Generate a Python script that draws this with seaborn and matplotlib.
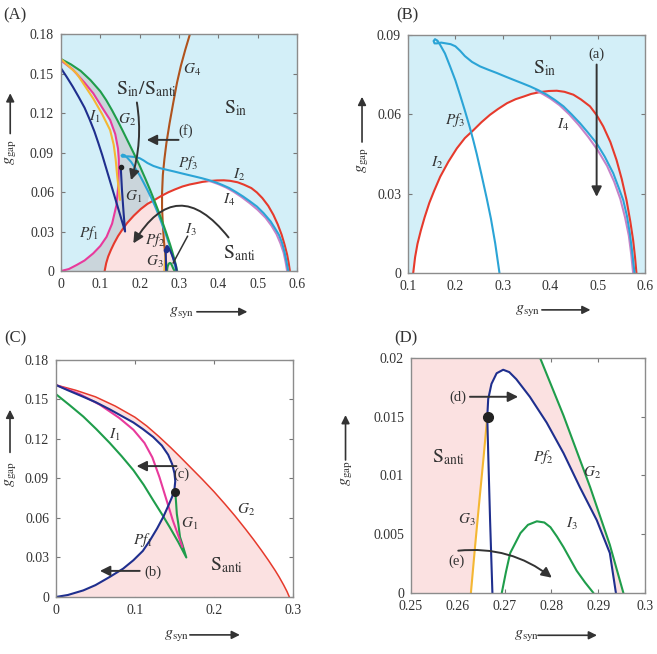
import numpy as np
import matplotlib
matplotlib.use("Agg")
import matplotlib.pyplot as plt
import seaborn as sns

# ---------------- data ----------------
# shared curves of panels A / B
I2_x = [0.111, 0.115, 0.12, 0.127, 0.135, 0.145, 0.155, 0.168, 0.185, 0.203, 0.22, 0.238, 0.255, 0.273,
        0.29, 0.309, 0.327, 0.344, 0.36, 0.379, 0.397, 0.414, 0.43, 0.449, 0.465, 0.484, 0.498, 0.512,
        0.527, 0.540, 0.551, 0.561, 0.569, 0.575, 0.579, 0.582]
I2_y = [0.0, 0.006, 0.011, 0.016, 0.021, 0.0265, 0.031, 0.0364, 0.042, 0.0471, 0.051, 0.054, 0.057, 0.0598,
        0.062, 0.0642, 0.0657, 0.0667, 0.0677, 0.0684, 0.0688, 0.0689, 0.0685, 0.0674, 0.0656, 0.063, 0.0597,
        0.0554, 0.0495, 0.0427, 0.0355, 0.0276, 0.0195, 0.0124, 0.006, 0.0]

Pf3_down_x = [0.162, 0.168, 0.178, 0.189, 0.2, 0.21, 0.22, 0.230, 0.238, 0.245, 0.255, 0.266, 0.275, 0.284, 0.293]
Pf3_down_y = [0.0878, 0.0862, 0.083, 0.078, 0.0728, 0.0672, 0.0614, 0.0553, 0.050, 0.045, 0.0372, 0.0283,
              0.0205, 0.0112, 0.0]
Pf3_top_x = [0.162, 0.157, 0.154, 0.156, 0.161, 0.17, 0.18, 0.19, 0.2, 0.21, 0.22, 0.235, 0.252, 0.27, 0.2875,
             0.305, 0.323, 0.34, 0.358, 0.375, 0.393, 0.41, 0.428, 0.445, 0.463, 0.48, 0.498, 0.515, 0.533,
             0.545, 0.554, 0.562, 0.568, 0.573, 0.576, 0.578]
Pf3_top_y = [0.0878, 0.0884, 0.0877, 0.0868, 0.0868, 0.0871, 0.0868, 0.0865, 0.0857, 0.084, 0.082, 0.0798,
             0.0781, 0.0768, 0.0756, 0.0743, 0.073, 0.0718, 0.0705, 0.0691, 0.0674, 0.0654, 0.063, 0.060,
             0.0566, 0.053, 0.049, 0.044, 0.0377, 0.032, 0.0276, 0.0215, 0.015, 0.008, 0.003, 0.0]

I4_x = [0.37, 0.385, 0.40, 0.42, 0.44, 0.46, 0.48, 0.50, 0.52, 0.535, 0.548, 0.558, 0.566, 0.571, 0.575]
I4_y = [0.069, 0.0676, 0.066, 0.0634, 0.060, 0.056, 0.0515, 0.0465, 0.0405, 0.0345, 0.028, 0.021, 0.014, 0.007, 0.0]

G4_x = [0.270, 0.266, 0.262, 0.259, 0.257, 0.257, 0.259, 0.263, 0.268, 0.276, 0.285, 0.295, 0.305, 0.316, 0.328]
G4_y = [0.0, 0.010, 0.022, 0.035, 0.048, 0.059, 0.073, 0.085, 0.097, 0.112, 0.127, 0.143, 0.156, 0.168, 0.18]

# G2 (shared by A, C, D)
G2_x = [0.0, 0.025, 0.05, 0.075, 0.1, 0.115, 0.13, 0.145, 0.157, 0.171, 0.185, 0.2, 0.214, 0.227, 0.24,
        0.25, 0.26, 0.269, 0.2776, 0.2826, 0.2883, 0.2925, 0.2954]
G2_y = [0.161, 0.157, 0.152, 0.145, 0.1365, 0.1298, 0.122, 0.1136, 0.1065, 0.098, 0.0895, 0.080, 0.0705,
        0.0613, 0.0515, 0.0437, 0.0355, 0.0278, 0.020, 0.0151, 0.009, 0.0041, 0.0]

# panel A left cluster
A_navy_x = [0.0, 0.015, 0.03, 0.045, 0.06, 0.0725, 0.085, 0.095, 0.105, 0.115, 0.125, 0.135, 0.145, 0.154,
            0.163, 0.159, 0.155, 0.152]
A_navy_y = [0.154, 0.1472, 0.140, 0.1322, 0.124, 0.1154, 0.106, 0.0972, 0.088, 0.078, 0.068, 0.058, 0.048,
            0.039, 0.030, 0.045, 0.062, 0.079]
A_Pf1_x = [0.0, 0.02, 0.04, 0.06, 0.082, 0.1, 0.116, 0.13, 0.141, 0.146, 0.147, 0.147, 0.145, 0.138, 0.125,
           0.105, 0.082, 0.06, 0.03, 0.0]
A_Pf1_y = [0.0, 0.0015, 0.0046, 0.008, 0.0134, 0.019, 0.026, 0.036, 0.05, 0.066, 0.079, 0.085, 0.093, 0.104,
           0.1147, 0.124, 0.135, 0.143, 0.153, 0.160]
A_yel_x = [0.0, 0.04, 0.082, 0.105, 0.125, 0.134, 0.139, 0.143, 0.147, 0.150]
A_yel_y = [0.161, 0.150, 0.131, 0.119, 0.107, 0.096, 0.085, 0.072, 0.062, 0.054]

# panel C
C_Pf1_x = [0.0, 0.015, 0.0346, 0.05, 0.068, 0.085, 0.098, 0.11, 0.119, 0.128, 0.136, 0.142, 0.147, 0.150,
           0.151, 0.150, 0.147, 0.142, 0.134, 0.123, 0.11, 0.098, 0.08, 0.068, 0.05, 0.0346, 0.015, 0.0]
C_Pf1_y = [0.0, 0.0015, 0.005, 0.009, 0.0152, 0.0215, 0.0279, 0.035, 0.043, 0.052, 0.061, 0.069, 0.076,
           0.082, 0.088, 0.094, 0.101, 0.108, 0.115, 0.1215, 0.1275, 0.1325, 0.1385, 0.1425, 0.148, 0.152,
           0.157, 0.161]
C_G1_x = [0.0, 0.017, 0.0346, 0.051, 0.068, 0.083, 0.098, 0.111, 0.123, 0.134, 0.144, 0.155, 0.165, 0.160,
          0.157, 0.155, 0.153, 0.152, 0.151]
C_G1_y = [0.154, 0.1458, 0.137, 0.1275, 0.117, 0.107, 0.0963, 0.0852, 0.0735, 0.063, 0.053, 0.0415, 0.030,
          0.040, 0.0456, 0.055, 0.063, 0.072, 0.080]
C_I1_x = [0.0, 0.03, 0.0556, 0.08, 0.098, 0.112, 0.122, 0.131, 0.14, 0.148, 0.157, 0.16]
C_I1_y = [0.161, 0.154, 0.146, 0.136, 0.127, 0.117, 0.106, 0.091, 0.0735, 0.058, 0.043, 0.038]

# panel D
D_Pf2_x = [0.2674, 0.2669, 0.2665, 0.2663, 0.2665, 0.2672, 0.2683, 0.2697, 0.2710, 0.2725, 0.2754, 0.279,
           0.2826, 0.2861, 0.2897, 0.2925, 0.2938]
D_Pf2_y = [0.0, 0.0062, 0.0119, 0.015, 0.0165, 0.0178, 0.0187, 0.0190, 0.0188, 0.0182, 0.0167, 0.0145,
           0.0119, 0.009, 0.0062, 0.0034, 0.0]
D_G3_x = [0.2628, 0.2637, 0.2646, 0.2655, 0.2663]
D_G3_y = [0.0, 0.004, 0.0078, 0.0115, 0.015]
D_I3_x = [0.2694, 0.2703, 0.2712, 0.2734, 0.2750, 0.2769, 0.2785, 0.2798, 0.2812, 0.2826, 0.2840, 0.2854,
          0.2872, 0.289]
D_I3_y = [0.0, 0.0018, 0.0034, 0.0051, 0.0058, 0.0061, 0.0060, 0.0056, 0.0048, 0.0039, 0.0029, 0.0019,
          0.0009, 0.0]

# ticks
A_xt = [0, 0.1, 0.2, 0.3, 0.4, 0.5, 0.6]; A_xtl = ["0", "0.1", "0.2", "0.3", "0.4", "0.5", "0.6"]
A_yt = [0, 0.03, 0.06, 0.09, 0.12, 0.15, 0.18]; A_ytl = ["0", "0.03", "0.06", "0.09", "0.12", "0.15", "0.18"]
B_xt = [0.1, 0.2, 0.3, 0.4, 0.5, 0.6]; B_xtl = ["0.1", "0.2", "0.3", "0.4", "0.5", "0.6"]
B_yt = [0, 0.03, 0.06, 0.09]; B_ytl = ["0", "0.03", "0.06", "0.09"]
C_xt = [0, 0.1, 0.2, 0.3]; C_xtl = ["0", "0.1", "0.2", "0.3"]
D_xt = [0.25, 0.26, 0.27, 0.28, 0.29, 0.3]; D_xtl = ["0.25", "0.26", "0.27", "0.28", "0.29", "0.3"]
D_yt = [0, 0.005, 0.01, 0.015, 0.02]; D_ytl = ["0", "0.005", "0.01", "0.015", "0.02"]

# ---------------- style ----------------
sns.set_theme(style="ticks")
plt.rcParams['font.family'] = ['Liberation Serif', 'DejaVu Serif']
plt.rcParams['mathtext.fontset'] = 'stix'

NAVY = '#1f2f8e'; MAG = '#e83a9c'; YEL = '#f4b733'; GRN = '#1f9d4b'; CYAN = '#2ba4d6'
RED = '#e63a2c'; BROWN = '#b0531d'; LAV = '#c683c8'
BLUE_BG = '#d3eff8'; PINK = '#fbe1e1'; GREY = '#cad5db'; ARROW = '#333333'

fig = plt.figure(figsize=(6.57, 6.54), dpi=100)
axA = fig.add_axes([0.0928, 0.5856, 0.3592, 0.3624])
axB = fig.add_axes([0.621, 0.5826, 0.3607, 0.364])
axC = fig.add_axes([0.0852, 0.0872, 0.3607, 0.3624])
axD = fig.add_axes([0.6256, 0.0933, 0.356, 0.3593])


def line(ax, x, y, color, lw=1.5, z=3):
    sns.lineplot(x=x, y=y, sort=False, estimator=None, color=color, linewidth=lw, ax=ax,
                 legend=False, zorder=z)


def style(ax, xlim, ylim, xt, xtl, yt, ytl, bg):
    ax.set_xlim(xlim); ax.set_ylim(ylim)
    ax.set_facecolor(bg)
    ax.set_xticks(xt); ax.set_xticklabels(xtl)
    ax.set_yticks(yt); ax.set_yticklabels(ytl)
    ax.set_xlabel(''); ax.set_ylabel('')
    ax.tick_params(direction='in', top=True, right=True, length=3, width=0.8, color='#777777',
                   labelsize=10, labelcolor='#333333', pad=5)
    for s in ax.spines.values():
        s.set_visible(True); s.set_color('#8c8c8c'); s.set_linewidth(1.0)
        s.set_zorder(10)


def axlabels(ax, xl, xa, yl, ya):
    ax.text(xl[0], xl[1], r'$g_{\rm syn}$', transform=ax.transAxes, ha='center', va='center',
            fontsize=11.5, color='#333333')
    ax.annotate('', xy=(xa[1], xl[1]), xytext=(xa[0], xl[1]), xycoords='axes fraction',
                arrowprops=dict(arrowstyle='-|>', color=ARROW, lw=1.2, mutation_scale=12,
                                shrinkA=0, shrinkB=0), annotation_clip=False)
    ax.text(yl[0], yl[1], r'$g_{\rm gap}$', transform=ax.transAxes, ha='center', va='center',
            fontsize=11.5, color='#333333', rotation=90)
    ax.annotate('', xy=(yl[0], ya[1]), xytext=(yl[0], ya[0]), xycoords='axes fraction',
                arrowprops=dict(arrowstyle='-|>', color=ARROW, lw=1.2, mutation_scale=12,
                                shrinkA=0, shrinkB=0), annotation_clip=False)


def lab(ax, x, y, s, size=11):
    ax.text(x, y, s, ha='center', va='center', fontsize=size, color='#333333', zorder=6)


def arrow(ax, start, end, rad=0.0, lw=1.4):
    ax.annotate('', xy=end, xytext=start,
                arrowprops=dict(arrowstyle='-|>', color=ARROW, lw=lw, mutation_scale=15,
                                shrinkA=0, shrinkB=0, connectionstyle=f'arc3,rad={rad}'), zorder=7)


def sel(xs, ys, cond):
    return [(x, y) for x, y in zip(xs, ys) if cond(x)]


# ---------------- panel A ----------------
ax = axA
XI = 0.237  # approximate crossing of G2 and I2
grey_poly = sel(G2_x, G2_y, lambda x: x <= XI) + sel(I2_x, I2_y, lambda x: x <= XI)[::-1] + \
    list(zip(A_Pf1_x, A_Pf1_y))
ax.fill(*zip(*grey_poly), color=GREY, lw=0, zorder=1)
pink_poly = sel(I2_x, I2_y, lambda x: x <= XI) + sel(G2_x, G2_y, lambda x: x > XI)
ax.fill(*zip(*pink_poly), color=PINK, lw=0, zorder=1)
white_poly = sel(I2_x, I2_y, lambda x: XI < x <= 0.38) + sel(Pf3_top_x, Pf3_top_y, lambda x: x > 0.38) + \
    sel(G2_x, G2_y, lambda x: x > XI)[::-1]
ax.fill(*zip(*white_poly), color='white', lw=0, zorder=1)

line(ax, G4_x, G4_y, BROWN)
line(ax, I2_x, I2_y, RED)
line(ax, I4_x, I4_y, LAV)
line(ax, Pf3_top_x, Pf3_top_y, CYAN)
line(ax, Pf3_down_x, Pf3_down_y, CYAN)
line(ax, G2_x, G2_y, GRN)
line(ax, A_Pf1_x, A_Pf1_y, MAG)
line(ax, A_yel_x, A_yel_y, YEL)
line(ax, A_navy_x, A_navy_y, NAVY)
line(ax, D_G3_x, D_G3_y, YEL)
line(ax, D_I3_x, D_I3_y, GRN)
line(ax, D_Pf2_x, D_Pf2_y, NAVY)
ax.plot([0.152], [0.079], 'o', color='#222222', ms=3, zorder=8)
ax.plot([0.2663], [0.016], 'o', color=NAVY, ms=3, zorder=8)
style(ax, (0, 0.6), (0, 0.18), A_xt, A_xtl, A_yt, A_ytl, BLUE_BG)

lab(ax, 0.218, 0.138, r'$\mathrm{S}_{\mathrm{in}}/\mathrm{S}_{\mathrm{anti}}$', 14)
lab(ax, 0.445, 0.124, r'$\mathrm{S}_{\mathrm{in}}$', 14)
lab(ax, 0.455, 0.0135, r'$\mathrm{S}_{\mathrm{anti}}$', 14)
lab(ax, 0.333, 0.153, r'$G_4$')
lab(ax, 0.087, 0.117, r'$I_1$')
lab(ax, 0.167, 0.115, r'$G_2$')
lab(ax, 0.316, 0.106, '(f)', 10.5)
lab(ax, 0.322, 0.082, r'$Pf_3$')
lab(ax, 0.453, 0.073, r'$I_2$')
lab(ax, 0.185, 0.0565, r'$G_1$')
lab(ax, 0.427, 0.054, r'$I_4$')
lab(ax, 0.33, 0.0315, r'$I_3$')
lab(ax, 0.07, 0.029, r'$Pf_1$')
lab(ax, 0.239, 0.0236, r'$Pf_2$')
lab(ax, 0.239, 0.0071, r'$G_3$')
arrow(ax, (0.193, 0.128), (0.178, 0.069), rad=-0.12)
arrow(ax, (0.299, 0.0996), (0.218, 0.0996))
arrow(ax, (0.426, 0.0255), (0.184, 0.021), rad=0.72)
ax.annotate('', xy=(0.285, 0.006), xytext=(0.322, 0.0265),
            arrowprops=dict(arrowstyle='-', color=ARROW, lw=1.1, shrinkA=0, shrinkB=0), zorder=7)
axlabels(ax, (0.51, -0.172), (0.576, 0.79), (-0.215, 0.50), (0.58, 0.75))

# ---------------- panel B ----------------
ax = axB
white_B = sel(I2_x, I2_y, lambda x: x <= 0.38) + sel(Pf3_top_x, Pf3_top_y, lambda x: x > 0.38)
ax.fill(*zip(*white_B), color='white', lw=0, zorder=1)
line(ax, I2_x, I2_y, RED)
line(ax, I4_x, I4_y, LAV)
line(ax, Pf3_top_x, Pf3_top_y, CYAN)
line(ax, Pf3_down_x, Pf3_down_y, CYAN)
style(ax, (0.1, 0.6), (0, 0.09), B_xt, B_xtl, B_yt, B_ytl, BLUE_BG)
lab(ax, 0.389, 0.0775, r'$\mathrm{S}_{\mathrm{in}}$', 14)
lab(ax, 0.498, 0.0828, '(a)', 10.5)
lab(ax, 0.199, 0.0579, r'$Pf_3$')
lab(ax, 0.428, 0.056, r'$I_4$')
lab(ax, 0.161, 0.0415, r'$I_2$')
arrow(ax, (0.498, 0.0788), (0.498, 0.0288))
axlabels(ax, (0.506, -0.155), (0.565, 0.77), (-0.194, 0.475), (0.55, 0.74))

# ---------------- panel C ----------------
ax = axC
pink_C = list(zip(G2_x, G2_y)) + list(zip(C_Pf1_x, C_Pf1_y))
ax.fill(*zip(*pink_C), color=PINK, lw=0, zorder=1)
line(ax, G2_x, G2_y, RED, lw=1.1)
line(ax, C_G1_x, C_G1_y, GRN)
line(ax, C_I1_x, C_I1_y, MAG)
line(ax, C_Pf1_x, C_Pf1_y, NAVY)
ax.plot([0.151], [0.080], 'o', color='#222222', ms=5.5, zorder=8)
style(ax, (0, 0.3), (0, 0.18), C_xt, C_xtl, A_yt, A_ytl, 'white')
lab(ax, 0.0746, 0.123, r'$I_1$')
lab(ax, 0.159, 0.0935, '(c)', 10.5)
lab(ax, 0.241, 0.066, r'$G_2$')
lab(ax, 0.169, 0.0555, r'$G_1$')
lab(ax, 0.110, 0.043, r'$Pf_1$')
lab(ax, 0.216, 0.024, r'$\mathrm{S}_{\mathrm{anti}}$', 14)
lab(ax, 0.123, 0.019, '(b)', 10.5)
arrow(ax, (0.1525, 0.0994), (0.102, 0.0994))
arrow(ax, (0.106, 0.0198), (0.0556, 0.0198))
axlabels(ax, (0.51, -0.16), (0.565, 0.776), (-0.194, 0.52), (0.61, 0.79))

# ---------------- panel D ----------------
ax = axD
pink_D = [(0.245, 0.045)] + sel(G2_x, G2_y, lambda x: x >= 0.245) + \
    list(zip(D_Pf2_x[3:], D_Pf2_y[3:]))[::-1] + list(zip(D_G3_x, D_G3_y))[::-1] + [(0.245, 0.0)]
ax.fill(*zip(*pink_D), color=PINK, lw=0, zorder=1)
line(ax, D_G3_x, D_G3_y, YEL)
line(ax, G2_x, G2_y, GRN)
line(ax, D_I3_x, D_I3_y, GRN)
line(ax, D_Pf2_x, D_Pf2_y, NAVY)
ax.plot([0.2664], [0.015], 'o', color='#222222', ms=7, zorder=8)
style(ax, (0.25, 0.3), (0, 0.02), D_xt, D_xtl, D_yt, D_ytl, 'white')
lab(ax, 0.2601, 0.0167, '(d)', 10.5)
lab(ax, 0.2581, 0.0116, r'$\mathrm{S}_{\mathrm{anti}}$', 14)
lab(ax, 0.2783, 0.0116, r'$Pf_2$')
lab(ax, 0.2886, 0.0102, r'$G_2$')
lab(ax, 0.2619, 0.0062, r'$G_3$')
lab(ax, 0.2843, 0.0059, r'$I_3$')
lab(ax, 0.2598, 0.0027, '(e)', 10.5)
arrow(ax, (0.2626, 0.0167), (0.2729, 0.0167))
arrow(ax, (0.2601, 0.0036), (0.2801, 0.0013), rad=-0.2)
axlabels(ax, (0.496, -0.18), (0.543, 0.795), (-0.28, 0.51), (0.566, 0.757))

# panel letters
for txt, x, y in [('(A)', 15, 15), ('(B)', 407, 15), ('(C)', 15, 338), ('(D)', 406, 338)]:
    fig.text(x / 657, 1 - y / 654, txt, ha='center', va='center', fontsize=12, color='#333333')

fig.savefig('out.png', dpi=100)
